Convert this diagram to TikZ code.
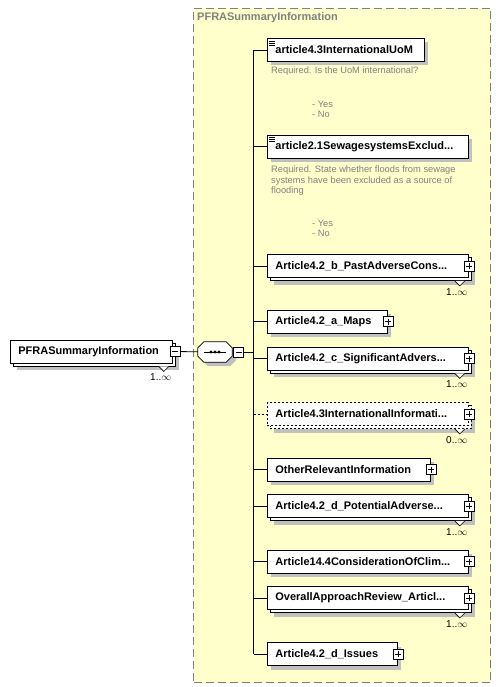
\documentclass[tikz,border=0pt]{standalone}
\usepackage{fontspec}
\setmainfont{Liberation Sans}
\usepackage{tikz}
\usetikzlibrary{shadows, positioning, calc}
\definecolor{panelyellow}{RGB}{255,255,204}
\definecolor{panelgray}{RGB}{128,128,128}
\definecolor{shadowgray}{RGB}{192,192,192}
\definecolor{notegray}{RGB}{128,128,128}
\newcommand{\elemfont}{\fontsize{11}{13}\selectfont\bfseries}
\newcommand{\notefont}{\fontsize{9.3}{10.4}\selectfont}
% small "v" below a repeated element
\newcommand{\occmark}[1]{%
  \filldraw[fill=white, line width=0.6pt] ([xshift=-14pt,yshift=-3pt]#1.south east) -- ([xshift=-9pt,yshift=-8pt]#1.south east) -- ([xshift=-4pt,yshift=-3pt]#1.south east);}
% documentation mark in the top left corner
\newcommand{\docicon}[1]{%
  \foreach \dy in {3pt,5pt,7pt} \draw[line width=0.6pt] ([xshift=2pt,yshift=-\dy]#1.north west) -- ++(6,0);}
\tikzset{
  panel/.style={rectangle, draw=panelgray, fill=panelyellow, dash pattern=on 8pt off 4pt,
    line width=1pt, minimum width=297pt, minimum height=674pt, inner sep=0pt},
  paneltitle/.style={font=\elemfont, text=panelgray, inner sep=0pt},
  basebox/.style={rectangle, draw=black, fill=white, line width=0.8pt,
    minimum height=23pt, inner xsep=8pt, inner ysep=0pt, anchor=west,
    align=left, font=\elemfont},
  elem/.style={basebox,
    drop shadow={shadow xshift=4pt, shadow yshift=-4pt, fill=shadowgray, opacity=1, draw=none}},
  multielem/.style={basebox,
    drop shadow={shadow xshift=7pt, shadow yshift=-7pt, fill=shadowgray, opacity=1, draw=none},
    copy shadow={shadow xshift=3pt, shadow yshift=-3pt, draw=black, fill=white, opacity=1, line width=0.8pt}},
  optelem/.style={basebox, dash pattern=on 2pt off 2pt,
    drop shadow={shadow xshift=7pt, shadow yshift=-7pt, fill=shadowgray, opacity=1, draw=none},
    copy shadow={shadow xshift=3pt, shadow yshift=-3pt, draw=black, fill=white, opacity=1,
      line width=0.8pt, dash pattern=on 2pt off 2pt}},
  btn/.style={rectangle, draw=black, fill=white, minimum size=10pt, inner sep=0pt, line width=0.6pt},
  minusbtn/.style={btn, path picture={
    \draw ([xshift=2pt]path picture bounding box.west) -- ([xshift=-2pt]path picture bounding box.east);}},
  plusbtn/.style={btn, path picture={
    \draw ([xshift=2pt]path picture bounding box.west) -- ([xshift=-2pt]path picture bounding box.east);
    \draw ([yshift=-2pt]path picture bounding box.north) -- ([yshift=2pt]path picture bounding box.south);}},
  seqbox/.style={rectangle, minimum width=34pt, minimum height=20pt, inner sep=0pt},
  seqline/.style={draw=black, fill=white, line width=0.8pt,
    drop shadow={shadow xshift=4pt, shadow yshift=-4pt, fill=shadowgray, opacity=1, draw=none}},
  note/.style={font=\notefont, text=notegray, align=left, inner sep=0pt, anchor=north west},
  mult/.style={font=\fontsize{10}{11}\selectfont, inner sep=0pt},
  conn/.style={line width=0.8pt, color=black}
}
\begin{document}
\begin{tikzpicture}[x=1pt, y=-1pt]
  \useasboundingbox (0,0) rectangle (500,687);

  % Content model panel
  \node[panel, anchor=north west] (panel) at (193,8) {};
  \node[paneltitle, anchor=west] (ptitle) at (197,18) {PFRASummaryInformation};

  % Root element and its sequence
  \node[multielem, text width=146pt] (root) at (10,351.5) {PFRASummaryInformation};
  \occmark{root}
  \node[minusbtn] (rootbtn) at ([xshift=2pt]root.east) {};
  \node[mult] (rootmult) at ([xshift=-12pt,yshift=-14pt]root.south east) {1..$\infty$};
  \node[seqbox] (seq) at (215,352) {};
  \filldraw[seqline] ([xshift=6pt]seq.north west) -- ([xshift=-6pt]seq.north east)
    -- ([yshift=-6pt]seq.north east) -- ([yshift=6pt]seq.south east)
    -- ([xshift=-6pt]seq.south east) -- ([xshift=6pt]seq.south west)
    -- ([yshift=6pt]seq.south west) -- ([yshift=-6pt]seq.north west) -- cycle;
  \draw[line width=0.8pt] ([xshift=-11pt]seq.center) -- ([xshift=11pt]seq.center);
  \foreach \dx in {-4pt,0pt,4pt}
    \fill ([xshift=\dx]seq.center) circle (1.6);
  \node[minusbtn, right=1pt of seq] (seqbtn) {};
  \coordinate (trunk) at ([xshift=10pt]seqbtn.east);

  % Children
  \node[elem, text width=141pt] (e1) at (267,50) {article4.3InternationalUoM};
  \docicon{e1}
  \node[note] (n1) at (271,67) {Required. Is the UoM international?};
  \node[note] (v1) at (312,101) {- Yes\\- No};

  \node[elem, text width=185pt] (e2) at (267,146.5) {article2.1SewagesystemsExclud...};
  \docicon{e2}
  \node[note] (n2) at (271,166) {Required. State whether floods from sewage\\systems have been excluded as a source of\\flooding};
  \node[note] (v2) at (312,220) {- Yes\\- No};

  \node[multielem, text width=185pt] (e3) at (267,266) {Article4.2\_b\_PastAdverseCons...};
  \occmark{e3}
  \node[plusbtn] (b3) at (e3.east) {};
  \node[mult] (m3) at ([xshift=-12pt,yshift=-14pt]e3.south east) {1..$\infty$};

  \node[elem, text width=104pt] (e4) at (267,321.5) {Article4.2\_a\_Maps};
  \node[plusbtn] (b4) at (e4.east) {};

  \node[multielem, text width=185pt] (e5) at (267,358.5) {Article4.2\_c\_SignificantAdvers...};
  \occmark{e5}
  \node[plusbtn] (b5) at (e5.east) {};
  \node[mult] (m5) at ([xshift=-12pt,yshift=-14pt]e5.south east) {1..$\infty$};

  \node[optelem, text width=185pt] (e6) at (267,414) {Article4.3InternationalInformati...};
  \occmark{e6}
  \node[plusbtn] (b6) at (e6.east) {};
  \node[mult] (m6) at ([xshift=-12pt,yshift=-14pt]e6.south east) {0..$\infty$};

  \node[elem, text width=147pt] (e7) at (267,469.5) {OtherRelevantInformation};
  \node[plusbtn] (b7) at (e7.east) {};

  \node[multielem, text width=185pt] (e8) at (267,506) {Article4.2\_d\_PotentialAdverse...};
  \occmark{e8}
  \node[plusbtn] (b8) at (e8.east) {};
  \node[mult] (m8) at ([xshift=-12pt,yshift=-14pt]e8.south east) {1..$\infty$};

  \node[elem, text width=185pt] (e9) at (267,561.5) {Article14.4ConsiderationOfClim...};
  \node[plusbtn] (b9) at (e9.east) {};

  \node[multielem, text width=185pt] (e10) at (267,598) {OverallApproachReview\_Articl...};
  \occmark{e10}
  \node[plusbtn] (b10) at (e10.east) {};
  \node[mult] (m10) at ([xshift=-12pt,yshift=-14pt]e10.south east) {1..$\infty$};

  \node[elem, text width=114pt] (e11) at (267,654) {Article4.2\_d\_Issues};
  \node[plusbtn] (b11) at (e11.east) {};

  % Connectors
  \draw[conn] (rootbtn) -- (seq);
  \draw[conn] (seqbtn) -- (trunk);
  \draw[conn] (trunk |- e1.west) -- (trunk |- e11.west);
  \foreach \e in {e1,e2,e3,e4,e5,e7,e8,e9,e10,e11}
    \draw[conn] (trunk |- \e.west) -- (\e.west);
  \draw[conn, dash pattern=on 2pt off 2pt] (trunk |- e6.west) -- (e6.west);
\end{tikzpicture}
\end{document}
